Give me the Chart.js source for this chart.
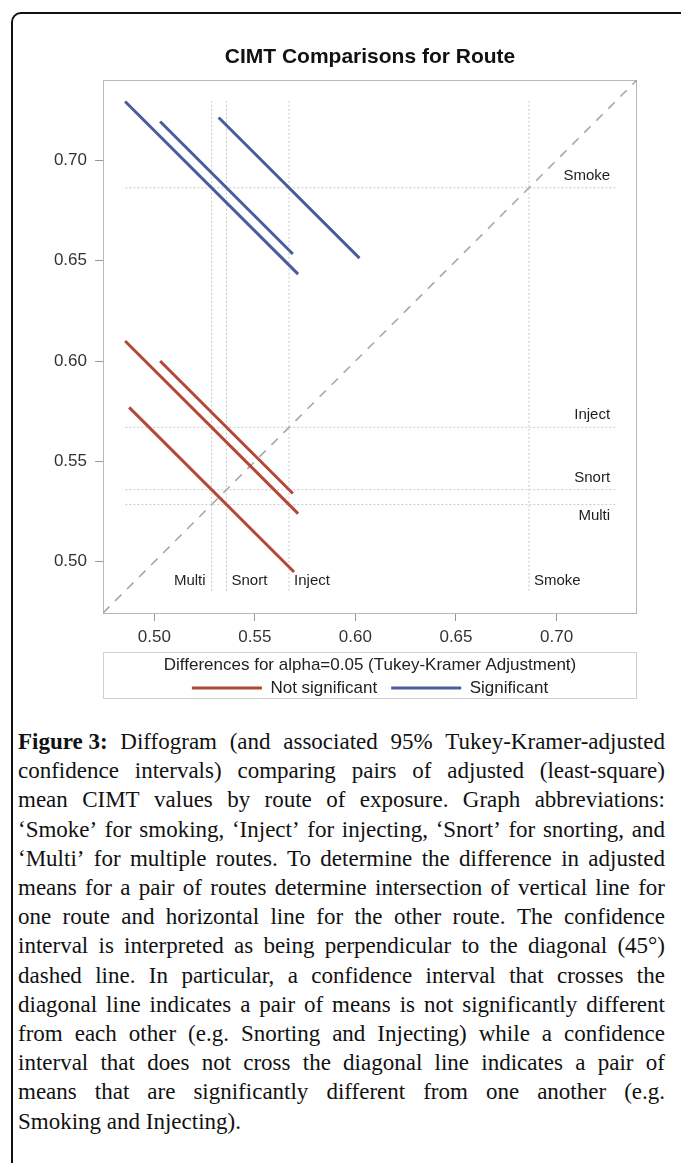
<!DOCTYPE html>
<html>
<head>
<meta charset="utf-8">
<script src="https://cdn.jsdelivr.net/npm/chart.js@4/dist/chart.umd.min.js"></script>
<style>
  html, body { margin: 0; padding: 0; background: #fff; }
  body { width: 681px; height: 1163px; position: relative; overflow: hidden; }
  #frame {
    position: absolute; left: 11px; top: 12px; width: 720px; height: 1220px;
    border: 2px solid #111; border-radius: 10px; box-sizing: border-box;
  }
  #chartWrap { position: absolute; left: 0; top: 0; width: 681px; height: 710px; }
  #caption {
    position: absolute; left: 18px; top: 727px; width: 647px;
    font-family: "Liberation Serif", "Times New Roman", serif;
    font-size: 23px; line-height: 29.2px; color: #111;
  }
  #caption .ln { display: flex; justify-content: space-between; white-space: nowrap; }
  #caption .last { white-space: nowrap; }
  #caption b { font-weight: bold; }
</style>
</head>
<body>
<div id="frame"></div>
<div id="chartWrap"><canvas id="diffChart" width="681" height="710"></canvas></div>
<div id="caption"></div>

<script>
// route LS-means (value of each reference line)
const routes = ['Multi', 'Snort', 'Inject', 'Smoke'];
const lsMeans = [0.5285, 0.5359, 0.5670, 0.6863];

// pairwise comparisons: route on x, route on y, half-width of the CI segment, significant?
const pairX = ['Multi', 'Snort', 'Inject', 'Multi', 'Snort', 'Multi'];
const pairY = ['Smoke', 'Smoke', 'Smoke', 'Inject', 'Inject', 'Snort'];
const halfWidth = [0.043, 0.033, 0.035, 0.043, 0.033, 0.041];
const significant = [true, true, true, false, false, false];

// axis range and ticks
const axisMin = 0.4745;
const axisMax = 0.7400;
const tickValues = [0.50, 0.55, 0.60, 0.65, 0.70];
const refStart = 0.4856;
const refEnd = 0.7296;

const RED = '#b3473a';
const BLUE = '#4a5c9e';
const FONT = '"Liberation Sans", Arial, sans-serif';

Chart.defaults.font.family = FONT;
Chart.defaults.color = '#333';

const meanOf = name => lsMeans[routes.indexOf(name)];

// 1. datasets
const datasets = [];

// reference lines (vertical + horizontal for every route)
routes.forEach((r, i) => {
    datasets.push({
        label: 'ref-v-' + r,
        data: [{ x: lsMeans[i], y: refStart }, { x: lsMeans[i], y: refEnd }],
        borderColor: '#c9c9c9', borderWidth: 1, borderDash: [2, 2],
        pointRadius: 0, order: 5
    });
    datasets.push({
        label: 'ref-h-' + r,
        data: [{ x: refStart, y: lsMeans[i] }, { x: refEnd, y: lsMeans[i] }],
        borderColor: '#c9c9c9', borderWidth: 1, borderDash: [2, 2],
        pointRadius: 0, order: 5
    });
});

// 45 degree diagonal
datasets.push({
    label: 'diagonal',
    data: [{ x: axisMin, y: axisMin }, { x: axisMax, y: axisMax }],
    borderColor: '#a3a3a3', borderWidth: 1.5, borderDash: [9, 8],
    pointRadius: 0, order: 4
});

// CI segments, perpendicular to the diagonal
pairX.forEach((px, i) => {
    const mx = meanOf(px), my = meanOf(pairY[i]), d = halfWidth[i];
    datasets.push({
        label: px + ' - ' + pairY[i],
        data: [{ x: mx - d, y: my + d }, { x: mx + d, y: my - d }],
        borderColor: significant[i] ? BLUE : RED,
        borderWidth: 3, pointRadius: 0, order: 1
    });
});

// 2. frames + reference line labels
const decorPlugin = {
    id: 'decor',
    beforeDatasetsDraw(chart) {
        const { ctx, chartArea: a } = chart;
        ctx.save();
        ctx.strokeStyle = '#b8b8b8';
        ctx.lineWidth = 1;
        ctx.strokeRect(Math.round(a.left) + 0.5, Math.round(a.top) + 0.5,
            Math.round(a.right - a.left) - 1, Math.round(a.bottom - a.top));
        ctx.restore();
    },
    afterDatasetsDraw(chart) {
        const { ctx, scales: { x, y } } = chart;
        ctx.save();
        ctx.font = '15px ' + FONT;
        ctx.fillStyle = '#1e1e1e';
        ctx.textBaseline = 'middle';
        const hx = x.getPixelForValue(refEnd) - 6;
        const vy = y.getPixelForValue(refStart) - 10;
        routes.forEach((r, i) => {
            const px = x.getPixelForValue(lsMeans[i]);
            const py = y.getPixelForValue(lsMeans[i]);
            // horizontal line label (right end)
            ctx.textAlign = 'right';
            ctx.fillText(r, hx, r === 'Multi' ? py + 11 : py - 12);
            // vertical line label (bottom)
            if (r === 'Multi') {
                ctx.textAlign = 'right';
                ctx.fillText(r, px - 6, vy);
            } else {
                ctx.textAlign = 'left';
                ctx.fillText(r, px + 5, vy);
            }
        });
        ctx.restore();
    },
    afterDraw(chart) {
        const { ctx, chartArea: a, legend } = chart;
        ctx.save();
        ctx.strokeStyle = '#cfcfcf';
        ctx.lineWidth = 1;
        ctx.strokeRect(Math.round(a.left) + 0.5, Math.round(legend.top) - 0.5,
            Math.round(a.right - a.left) - 1, 46);
        ctx.restore();
    }
};

const tickOpts = {
    font: { size: 17 },
    color: '#333',
    callback: v => Number(v).toFixed(2)
};

new Chart(document.getElementById('diffChart').getContext('2d'), {
    type: 'line',
    data: { datasets },
    plugins: [decorPlugin],
    options: {
        responsive: false,
        devicePixelRatio: 1,
        animation: false,
        events: [],
        layout: { padding: { left: 0, right: 44, top: 0, bottom: 3.6 } },
        scales: {
            x: {
                type: 'linear', min: axisMin, max: axisMax,
                afterBuildTicks: axis => { axis.ticks = tickValues.map(v => ({ value: v })); },
                afterFit: axis => { axis.height = 40; },
                ticks: Object.assign({ padding: 6, maxRotation: 0 }, tickOpts),
                grid: { drawOnChartArea: false, drawTicks: true, tickLength: 8, color: '#999' },
                border: { display: false }
            },
            y: {
                type: 'linear', min: axisMin, max: axisMax,
                afterBuildTicks: axis => { axis.ticks = tickValues.map(v => ({ value: v })); },
                afterFit: axis => { axis.width = 103; },
                ticks: Object.assign({ padding: 8 }, tickOpts),
                grid: { drawOnChartArea: false, drawTicks: true, tickLength: 8, color: '#999' },
                border: { display: false }
            }
        },
        plugins: {
            tooltip: { enabled: false },
            title: {
                display: true,
                fullSize: false,
                text: 'CIMT Comparisons for Route',
                color: '#111',
                font: { size: 21, weight: 'bold' },
                padding: { top: 45, bottom: 9.8 }
            },
            legend: {
                position: 'bottom',
                fullSize: false,
                title: {
                    display: true,
                    text: 'Differences for alpha=0.05 (Tukey-Kramer Adjustment)',
                    color: '#222',
                    font: { size: 17 },
                    padding: { top: 4, bottom: -12 }
                },
                labels: {
                    usePointStyle: true,
                    pointStyleWidth: 70,
                    padding: 14,
                    color: '#222',
                    font: { size: 17 },
                    generateLabels: () => [
                        { text: 'Not significant', pointStyle: 'line', strokeStyle: RED, fillStyle: RED, lineWidth: 3, hidden: false },
                        { text: 'Significant', pointStyle: 'line', strokeStyle: BLUE, fillStyle: BLUE, lineWidth: 3, hidden: false }
                    ]
                }
            }
        }
    }
});

// 3. caption, one justified line per row as in the figure
const captionLines = [
    'Figure\u00a03: Diffogram (and associated 95% Tukey-Kramer-adjusted',
    'confidence intervals) comparing pairs of adjusted (least-square)',
    'mean CIMT values by route of exposure. Graph abbreviations:',
    '‘Smoke’ for smoking, ‘Inject’ for injecting, ‘Snort’ for snorting, and',
    '‘Multi’ for multiple routes. To determine the difference in adjusted',
    'means for a pair of routes determine intersection of vertical line for',
    'one route and horizontal line for the other route. The confidence',
    'interval is interpreted as being perpendicular to the diagonal (45°)',
    'dashed line. In particular, a confidence interval that crosses the',
    'diagonal line indicates a pair of means is not significantly different',
    'from each other (e.g. Snorting and Injecting) while a confidence',
    'interval that does not cross the diagonal line indicates a pair of',
    'means that are significantly different from one another (e.g.',
    'Smoking and Injecting).'
];
const cap = document.getElementById('caption');
captionLines.forEach((line, i) => {
    const div = document.createElement('div');
    if (i === captionLines.length - 1) {
        div.className = 'last';
        div.textContent = line;
    } else {
        div.className = 'ln';
        line.split(' ').forEach((w, j) => {
            const s = document.createElement(i === 0 && j === 0 ? 'b' : 'span');
            s.textContent = w;
            div.appendChild(s);
        });
    }
    cap.appendChild(div);
});
</script>
</body>
</html>
